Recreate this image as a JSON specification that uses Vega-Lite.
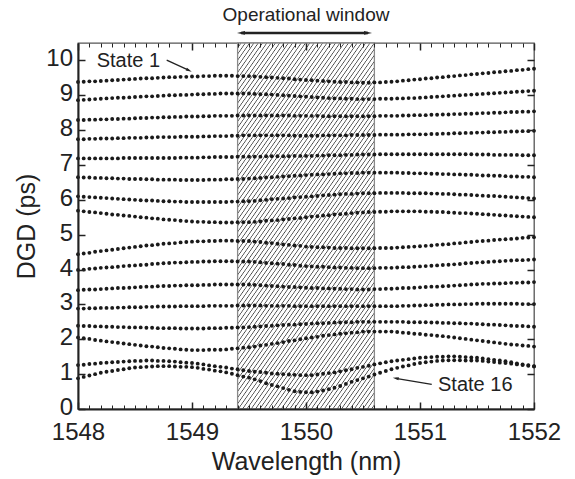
{
"$schema": "https://vega.github.io/schema/vega-lite/v6.json",
"width": 456,
"height": 366,
"autosize": "none",
"padding": {"left": 78, "top": 43, "right": 41, "bottom": 70},
"config": {"font": "Liberation Sans", "view": {"stroke": "#555", "strokeWidth": 1.3}},
"resolve": {"axis": {"x": "independent", "y": "independent"}},
"layer": [
{
"data": {"values": [{}]},
"mark": {"type": "rect", "stroke": "#8a8a8a", "strokeWidth": 1.3,
"fill": {"gradient": "linear", "x1": 0, "y1": 0, "x2": 0.696, "y2": 1.305, "stops": [
{"offset":0,"color":"#fff"},{"offset":0.006,"color":"#fff"},{"offset":0.008,"color":"#444"},
{"offset":0.01,"color":"#fff"},{"offset":0.016,"color":"#fff"},{"offset":0.018,"color":"#444"},
{"offset":0.02,"color":"#fff"},{"offset":0.026,"color":"#fff"},{"offset":0.028,"color":"#444"},
{"offset":0.03,"color":"#fff"},{"offset":0.036,"color":"#fff"},{"offset":0.038,"color":"#444"},
{"offset":0.04,"color":"#fff"},{"offset":0.046,"color":"#fff"},{"offset":0.048,"color":"#444"},
{"offset":0.05,"color":"#fff"},{"offset":0.056,"color":"#fff"},{"offset":0.058,"color":"#444"},
{"offset":0.06,"color":"#fff"},{"offset":0.066,"color":"#fff"},{"offset":0.068,"color":"#444"},
{"offset":0.07,"color":"#fff"},{"offset":0.076,"color":"#fff"},{"offset":0.078,"color":"#444"},
{"offset":0.08,"color":"#fff"},{"offset":0.086,"color":"#fff"},{"offset":0.088,"color":"#444"},
{"offset":0.09,"color":"#fff"},{"offset":0.096,"color":"#fff"},{"offset":0.098,"color":"#444"},
{"offset":0.1,"color":"#fff"},{"offset":0.106,"color":"#fff"},{"offset":0.108,"color":"#444"},
{"offset":0.11,"color":"#fff"},{"offset":0.116,"color":"#fff"},{"offset":0.118,"color":"#444"},
{"offset":0.12,"color":"#fff"},{"offset":0.126,"color":"#fff"},{"offset":0.128,"color":"#444"},
{"offset":0.13,"color":"#fff"},{"offset":0.136,"color":"#fff"},{"offset":0.138,"color":"#444"},
{"offset":0.14,"color":"#fff"},{"offset":0.146,"color":"#fff"},{"offset":0.148,"color":"#444"},
{"offset":0.15,"color":"#fff"},{"offset":0.156,"color":"#fff"},{"offset":0.158,"color":"#444"},
{"offset":0.16,"color":"#fff"},{"offset":0.166,"color":"#fff"},{"offset":0.168,"color":"#444"},
{"offset":0.17,"color":"#fff"},{"offset":0.176,"color":"#fff"},{"offset":0.178,"color":"#444"},
{"offset":0.18,"color":"#fff"},{"offset":0.186,"color":"#fff"},{"offset":0.188,"color":"#444"},
{"offset":0.19,"color":"#fff"},{"offset":0.196,"color":"#fff"},{"offset":0.198,"color":"#444"},
{"offset":0.2,"color":"#fff"},{"offset":0.206,"color":"#fff"},{"offset":0.208,"color":"#444"},
{"offset":0.21,"color":"#fff"},{"offset":0.216,"color":"#fff"},{"offset":0.218,"color":"#444"},
{"offset":0.22,"color":"#fff"},{"offset":0.226,"color":"#fff"},{"offset":0.228,"color":"#444"},
{"offset":0.23,"color":"#fff"},{"offset":0.236,"color":"#fff"},{"offset":0.238,"color":"#444"},
{"offset":0.24,"color":"#fff"},{"offset":0.246,"color":"#fff"},{"offset":0.248,"color":"#444"},
{"offset":0.25,"color":"#fff"},{"offset":0.256,"color":"#fff"},{"offset":0.258,"color":"#444"},
{"offset":0.26,"color":"#fff"},{"offset":0.266,"color":"#fff"},{"offset":0.268,"color":"#444"},
{"offset":0.27,"color":"#fff"},{"offset":0.276,"color":"#fff"},{"offset":0.278,"color":"#444"},
{"offset":0.28,"color":"#fff"},{"offset":0.286,"color":"#fff"},{"offset":0.288,"color":"#444"},
{"offset":0.29,"color":"#fff"},{"offset":0.296,"color":"#fff"},{"offset":0.298,"color":"#444"},
{"offset":0.3,"color":"#fff"},{"offset":0.306,"color":"#fff"},{"offset":0.308,"color":"#444"},
{"offset":0.31,"color":"#fff"},{"offset":0.316,"color":"#fff"},{"offset":0.318,"color":"#444"},
{"offset":0.32,"color":"#fff"},{"offset":0.326,"color":"#fff"},{"offset":0.328,"color":"#444"},
{"offset":0.33,"color":"#fff"},{"offset":0.336,"color":"#fff"},{"offset":0.338,"color":"#444"},
{"offset":0.34,"color":"#fff"},{"offset":0.346,"color":"#fff"},{"offset":0.348,"color":"#444"},
{"offset":0.35,"color":"#fff"},{"offset":0.356,"color":"#fff"},{"offset":0.358,"color":"#444"},
{"offset":0.36,"color":"#fff"},{"offset":0.366,"color":"#fff"},{"offset":0.368,"color":"#444"},
{"offset":0.37,"color":"#fff"},{"offset":0.376,"color":"#fff"},{"offset":0.378,"color":"#444"},
{"offset":0.38,"color":"#fff"},{"offset":0.386,"color":"#fff"},{"offset":0.388,"color":"#444"},
{"offset":0.39,"color":"#fff"},{"offset":0.396,"color":"#fff"},{"offset":0.398,"color":"#444"},
{"offset":0.4,"color":"#fff"},{"offset":0.406,"color":"#fff"},{"offset":0.408,"color":"#444"},
{"offset":0.41,"color":"#fff"},{"offset":0.416,"color":"#fff"},{"offset":0.418,"color":"#444"},
{"offset":0.42,"color":"#fff"},{"offset":0.426,"color":"#fff"},{"offset":0.428,"color":"#444"},
{"offset":0.43,"color":"#fff"},{"offset":0.436,"color":"#fff"},{"offset":0.438,"color":"#444"},
{"offset":0.44,"color":"#fff"},{"offset":0.446,"color":"#fff"},{"offset":0.448,"color":"#444"},
{"offset":0.45,"color":"#fff"},{"offset":0.456,"color":"#fff"},{"offset":0.458,"color":"#444"},
{"offset":0.46,"color":"#fff"},{"offset":0.466,"color":"#fff"},{"offset":0.468,"color":"#444"},
{"offset":0.47,"color":"#fff"},{"offset":0.476,"color":"#fff"},{"offset":0.478,"color":"#444"},
{"offset":0.48,"color":"#fff"},{"offset":0.486,"color":"#fff"},{"offset":0.488,"color":"#444"},
{"offset":0.49,"color":"#fff"},{"offset":0.496,"color":"#fff"},{"offset":0.498,"color":"#444"},
{"offset":0.5,"color":"#fff"},{"offset":0.506,"color":"#fff"},{"offset":0.508,"color":"#444"},
{"offset":0.51,"color":"#fff"},{"offset":0.516,"color":"#fff"},{"offset":0.518,"color":"#444"},
{"offset":0.52,"color":"#fff"},{"offset":0.526,"color":"#fff"},{"offset":0.528,"color":"#444"},
{"offset":0.53,"color":"#fff"},{"offset":0.536,"color":"#fff"},{"offset":0.538,"color":"#444"},
{"offset":0.54,"color":"#fff"},{"offset":0.546,"color":"#fff"},{"offset":0.548,"color":"#444"},
{"offset":0.55,"color":"#fff"},{"offset":0.556,"color":"#fff"},{"offset":0.558,"color":"#444"},
{"offset":0.56,"color":"#fff"},{"offset":0.566,"color":"#fff"},{"offset":0.568,"color":"#444"},
{"offset":0.57,"color":"#fff"},{"offset":0.576,"color":"#fff"},{"offset":0.578,"color":"#444"},
{"offset":0.58,"color":"#fff"},{"offset":0.586,"color":"#fff"},{"offset":0.588,"color":"#444"},
{"offset":0.59,"color":"#fff"},{"offset":0.596,"color":"#fff"},{"offset":0.598,"color":"#444"},
{"offset":0.6,"color":"#fff"},{"offset":0.606,"color":"#fff"},{"offset":0.608,"color":"#444"},
{"offset":0.61,"color":"#fff"},{"offset":0.616,"color":"#fff"},{"offset":0.618,"color":"#444"},
{"offset":0.62,"color":"#fff"},{"offset":0.626,"color":"#fff"},{"offset":0.628,"color":"#444"},
{"offset":0.63,"color":"#fff"},{"offset":0.636,"color":"#fff"},{"offset":0.638,"color":"#444"},
{"offset":0.64,"color":"#fff"},{"offset":0.646,"color":"#fff"},{"offset":0.648,"color":"#444"},
{"offset":0.65,"color":"#fff"},{"offset":0.656,"color":"#fff"},{"offset":0.658,"color":"#444"},
{"offset":0.66,"color":"#fff"},{"offset":0.666,"color":"#fff"},{"offset":0.668,"color":"#444"},
{"offset":0.67,"color":"#fff"},{"offset":0.676,"color":"#fff"},{"offset":0.678,"color":"#444"},
{"offset":0.68,"color":"#fff"},{"offset":0.686,"color":"#fff"},{"offset":0.688,"color":"#444"},
{"offset":0.69,"color":"#fff"},{"offset":0.696,"color":"#fff"},{"offset":0.698,"color":"#444"},
{"offset":0.7,"color":"#fff"},{"offset":0.706,"color":"#fff"},{"offset":0.708,"color":"#444"},
{"offset":0.71,"color":"#fff"},{"offset":0.716,"color":"#fff"},{"offset":0.718,"color":"#444"},
{"offset":0.72,"color":"#fff"},{"offset":0.726,"color":"#fff"},{"offset":0.728,"color":"#444"},
{"offset":0.73,"color":"#fff"},{"offset":0.736,"color":"#fff"},{"offset":0.738,"color":"#444"},
{"offset":0.74,"color":"#fff"},{"offset":0.746,"color":"#fff"},{"offset":0.748,"color":"#444"},
{"offset":0.75,"color":"#fff"},{"offset":0.756,"color":"#fff"},{"offset":0.758,"color":"#444"},
{"offset":0.76,"color":"#fff"},{"offset":0.766,"color":"#fff"},{"offset":0.768,"color":"#444"},
{"offset":0.77,"color":"#fff"},{"offset":0.776,"color":"#fff"},{"offset":0.778,"color":"#444"},
{"offset":0.78,"color":"#fff"},{"offset":0.786,"color":"#fff"},{"offset":0.788,"color":"#444"},
{"offset":0.79,"color":"#fff"},{"offset":0.796,"color":"#fff"},{"offset":0.798,"color":"#444"},
{"offset":0.8,"color":"#fff"},{"offset":0.806,"color":"#fff"},{"offset":0.808,"color":"#444"},
{"offset":0.81,"color":"#fff"},{"offset":0.816,"color":"#fff"},{"offset":0.818,"color":"#444"},
{"offset":0.82,"color":"#fff"},{"offset":0.826,"color":"#fff"},{"offset":0.828,"color":"#444"},
{"offset":0.83,"color":"#fff"},{"offset":0.836,"color":"#fff"},{"offset":0.838,"color":"#444"},
{"offset":0.84,"color":"#fff"},{"offset":0.846,"color":"#fff"},{"offset":0.848,"color":"#444"},
{"offset":0.85,"color":"#fff"},{"offset":0.856,"color":"#fff"},{"offset":0.858,"color":"#444"},
{"offset":0.86,"color":"#fff"},{"offset":0.866,"color":"#fff"},{"offset":0.868,"color":"#444"},
{"offset":0.87,"color":"#fff"},{"offset":0.876,"color":"#fff"},{"offset":0.878,"color":"#444"},
{"offset":0.88,"color":"#fff"},{"offset":0.886,"color":"#fff"},{"offset":0.888,"color":"#444"},
{"offset":0.89,"color":"#fff"},{"offset":0.896,"color":"#fff"},{"offset":0.898,"color":"#444"},
{"offset":0.9,"color":"#fff"},{"offset":0.906,"color":"#fff"},{"offset":0.908,"color":"#444"},
{"offset":0.91,"color":"#fff"},{"offset":0.916,"color":"#fff"},{"offset":0.918,"color":"#444"},
{"offset":0.92,"color":"#fff"},{"offset":0.926,"color":"#fff"},{"offset":0.928,"color":"#444"},
{"offset":1,"color":"#fff"}
]}},
"encoding": {
"x": {"datum": 1549.4, "type": "quantitative", "scale": {"domain": [1548, 1552], "nice": false, "zero": false},
 "axis": {"orient": "top", "values": [1548,1549,1550,1551,1552],
  "labels": false, "domain": false, "grid": false, "title": null, "tickColor": "#222", "tickWidth": 1.5, "tickSize": -7, "zindex": 2}},
"x2": {"datum": 1550.6},
"y": {"datum": 0, "type": "quantitative", "scale": {"domain": [0, 10.5], "nice": false, "zero": false},
 "axis": {"orient": "right", "values": [0,1,2,3,4,5,6,7,8,9,10], "labels": false, "domain": false, "grid": false, "title": null, "tickColor": "#222", "tickWidth": 1.5, "tickSize": -7, "zindex": 2}},
"y2": {"datum": 10.5}
}
},
{
"data": {"values": [
{"x":1548.00,"s1":9.38,"s2":8.86,"s3":8.29,"s4":7.74,"s5":7.19,"s6":6.65,"s7":6.10,"s8":5.69,"s9":4.44,"s10":3.99,"s11":3.41,"s12":2.88,"s13":2.39,"s14":2.05,"s15":1.26,"s16":0.88},
{"x":1548.05,"s1":9.39,"s2":8.87,"s3":8.29,"s4":7.74,"s5":7.19,"s6":6.64,"s7":6.09,"s8":5.67,"s9":4.46,"s10":4.00,"s11":3.42,"s12":2.88,"s13":2.38,"s14":2.03,"s15":1.27,"s16":0.92},
{"x":1548.10,"s1":9.40,"s2":8.88,"s3":8.30,"s4":7.75,"s5":7.19,"s6":6.64,"s7":6.08,"s8":5.65,"s9":4.48,"s10":4.02,"s11":3.43,"s12":2.89,"s13":2.38,"s14":2.01,"s15":1.29,"s16":0.96},
{"x":1548.15,"s1":9.40,"s2":8.89,"s3":8.30,"s4":7.75,"s5":7.19,"s6":6.63,"s7":6.07,"s8":5.64,"s9":4.51,"s10":4.03,"s11":3.43,"s12":2.89,"s13":2.37,"s14":1.98,"s15":1.30,"s16":1.00},
{"x":1548.20,"s1":9.41,"s2":8.90,"s3":8.31,"s4":7.76,"s5":7.19,"s6":6.63,"s7":6.06,"s8":5.62,"s9":4.53,"s10":4.05,"s11":3.44,"s12":2.90,"s13":2.37,"s14":1.96,"s15":1.32,"s16":1.04},
{"x":1548.25,"s1":9.42,"s2":8.91,"s3":8.31,"s4":7.76,"s5":7.19,"s6":6.62,"s7":6.05,"s8":5.60,"s9":4.55,"s10":4.06,"s11":3.45,"s12":2.90,"s13":2.36,"s14":1.94,"s15":1.33,"s16":1.07},
{"x":1548.30,"s1":9.43,"s2":8.92,"s3":8.32,"s4":7.76,"s5":7.19,"s6":6.62,"s7":6.04,"s8":5.58,"s9":4.57,"s10":4.07,"s11":3.46,"s12":2.90,"s13":2.36,"s14":1.92,"s15":1.34,"s16":1.09},
{"x":1548.35,"s1":9.44,"s2":8.93,"s3":8.32,"s4":7.77,"s5":7.19,"s6":6.61,"s7":6.03,"s8":5.57,"s9":4.59,"s10":4.08,"s11":3.47,"s12":2.91,"s13":2.35,"s14":1.90,"s15":1.35,"s16":1.12},
{"x":1548.40,"s1":9.45,"s2":8.93,"s3":8.33,"s4":7.77,"s5":7.20,"s6":6.61,"s7":6.02,"s8":5.55,"s9":4.61,"s10":4.10,"s11":3.47,"s12":2.91,"s13":2.35,"s14":1.88,"s15":1.36,"s16":1.14},
{"x":1548.45,"s1":9.46,"s2":8.94,"s3":8.33,"s4":7.78,"s5":7.20,"s6":6.60,"s7":6.01,"s8":5.54,"s9":4.63,"s10":4.11,"s11":3.48,"s12":2.92,"s13":2.34,"s14":1.86,"s15":1.37,"s16":1.17},
{"x":1548.50,"s1":9.47,"s2":8.95,"s3":8.34,"s4":7.78,"s5":7.20,"s6":6.60,"s7":6.00,"s8":5.52,"s9":4.65,"s10":4.12,"s11":3.49,"s12":2.92,"s13":2.34,"s14":1.84,"s15":1.38,"s16":1.19},
{"x":1548.55,"s1":9.48,"s2":8.96,"s3":8.35,"s4":7.78,"s5":7.20,"s6":6.60,"s7":5.99,"s8":5.50,"s9":4.67,"s10":4.13,"s11":3.50,"s12":2.92,"s13":2.34,"s14":1.82,"s15":1.38,"s16":1.20},
{"x":1548.60,"s1":9.49,"s2":8.97,"s3":8.35,"s4":7.79,"s5":7.20,"s6":6.59,"s7":5.98,"s8":5.49,"s9":4.69,"s10":4.14,"s11":3.51,"s12":2.93,"s13":2.33,"s14":1.80,"s15":1.39,"s16":1.21},
{"x":1548.65,"s1":9.49,"s2":8.97,"s3":8.36,"s4":7.79,"s5":7.20,"s6":6.59,"s7":5.98,"s8":5.47,"s9":4.70,"s10":4.16,"s11":3.51,"s12":2.93,"s13":2.33,"s14":1.79,"s15":1.39,"s16":1.22},
{"x":1548.70,"s1":9.50,"s2":8.98,"s3":8.36,"s4":7.80,"s5":7.20,"s6":6.58,"s7":5.97,"s8":5.46,"s9":4.72,"s10":4.17,"s11":3.52,"s12":2.94,"s13":2.32,"s14":1.77,"s15":1.38,"s16":1.23},
{"x":1548.75,"s1":9.51,"s2":8.99,"s3":8.37,"s4":7.80,"s5":7.20,"s6":6.58,"s7":5.96,"s8":5.44,"s9":4.74,"s10":4.18,"s11":3.53,"s12":2.94,"s13":2.32,"s14":1.75,"s15":1.38,"s16":1.23},
{"x":1548.80,"s1":9.52,"s2":9.00,"s3":8.37,"s4":7.80,"s5":7.20,"s6":6.58,"s7":5.96,"s8":5.43,"s9":4.75,"s10":4.19,"s11":3.53,"s12":2.94,"s13":2.32,"s14":1.74,"s15":1.37,"s16":1.23},
{"x":1548.85,"s1":9.52,"s2":9.00,"s3":8.38,"s4":7.80,"s5":7.20,"s6":6.58,"s7":5.95,"s8":5.42,"s9":4.76,"s10":4.20,"s11":3.54,"s12":2.94,"s13":2.32,"s14":1.73,"s15":1.36,"s16":1.22},
{"x":1548.90,"s1":9.53,"s2":9.01,"s3":8.38,"s4":7.81,"s5":7.21,"s6":6.57,"s7":5.95,"s8":5.40,"s9":4.78,"s10":4.20,"s11":3.54,"s12":2.95,"s13":2.31,"s14":1.71,"s15":1.34,"s16":1.21},
{"x":1548.95,"s1":9.53,"s2":9.01,"s3":8.39,"s4":7.81,"s5":7.21,"s6":6.57,"s7":5.94,"s8":5.39,"s9":4.79,"s10":4.21,"s11":3.55,"s12":2.95,"s13":2.31,"s14":1.70,"s15":1.33,"s16":1.21},
{"x":1549.00,"s1":9.54,"s2":9.02,"s3":8.39,"s4":7.81,"s5":7.21,"s6":6.57,"s7":5.94,"s8":5.38,"s9":4.80,"s10":4.22,"s11":3.55,"s12":2.95,"s13":2.31,"s14":1.69,"s15":1.32,"s16":1.20},
{"x":1549.05,"s1":9.54,"s2":9.03,"s3":8.39,"s4":7.81,"s5":7.21,"s6":6.57,"s7":5.94,"s8":5.37,"s9":4.81,"s10":4.22,"s11":3.55,"s12":2.95,"s13":2.31,"s14":1.69,"s15":1.30,"s16":1.18},
{"x":1549.10,"s1":9.55,"s2":9.03,"s3":8.40,"s4":7.82,"s5":7.22,"s6":6.57,"s7":5.94,"s8":5.37,"s9":4.81,"s10":4.23,"s11":3.56,"s12":2.95,"s13":2.31,"s14":1.69,"s15":1.28,"s16":1.15},
{"x":1549.15,"s1":9.55,"s2":9.04,"s3":8.40,"s4":7.82,"s5":7.22,"s6":6.58,"s7":5.94,"s8":5.36,"s9":4.82,"s10":4.23,"s11":3.56,"s12":2.96,"s13":2.32,"s14":1.70,"s15":1.25,"s16":1.13},
{"x":1549.20,"s1":9.56,"s2":9.04,"s3":8.41,"s4":7.83,"s5":7.23,"s6":6.58,"s7":5.94,"s8":5.36,"s9":4.82,"s10":4.24,"s11":3.57,"s12":2.96,"s13":2.32,"s14":1.70,"s15":1.23,"s16":1.10},
{"x":1549.25,"s1":9.56,"s2":9.05,"s3":8.41,"s4":7.83,"s5":7.23,"s6":6.58,"s7":5.94,"s8":5.35,"s9":4.83,"s10":4.24,"s11":3.57,"s12":2.96,"s13":2.32,"s14":1.70,"s15":1.21,"s16":1.08},
{"x":1549.30,"s1":9.56,"s2":9.05,"s3":8.41,"s4":7.83,"s5":7.23,"s6":6.59,"s7":5.94,"s8":5.35,"s9":4.83,"s10":4.24,"s11":3.57,"s12":2.96,"s13":2.33,"s14":1.71,"s15":1.19,"s16":1.05},
{"x":1549.35,"s1":9.56,"s2":9.05,"s3":8.41,"s4":7.84,"s5":7.23,"s6":6.59,"s7":5.95,"s8":5.35,"s9":4.83,"s10":4.24,"s11":3.57,"s12":2.96,"s13":2.33,"s14":1.73,"s15":1.16,"s16":1.01},
{"x":1549.40,"s1":9.55,"s2":9.05,"s3":8.42,"s4":7.84,"s5":7.24,"s6":6.60,"s7":5.95,"s8":5.36,"s9":4.82,"s10":4.23,"s11":3.57,"s12":2.97,"s13":2.34,"s14":1.74,"s15":1.14,"s16":0.97},
{"x":1549.45,"s1":9.55,"s2":9.05,"s3":8.42,"s4":7.85,"s5":7.24,"s6":6.60,"s7":5.96,"s8":5.36,"s9":4.82,"s10":4.23,"s11":3.57,"s12":2.97,"s13":2.34,"s14":1.76,"s15":1.11,"s16":0.93},
{"x":1549.50,"s1":9.55,"s2":9.05,"s3":8.42,"s4":7.85,"s5":7.24,"s6":6.61,"s7":5.96,"s8":5.36,"s9":4.82,"s10":4.23,"s11":3.57,"s12":2.97,"s13":2.35,"s14":1.77,"s15":1.09,"s16":0.90},
{"x":1549.55,"s1":9.54,"s2":9.04,"s3":8.42,"s4":7.85,"s5":7.24,"s6":6.62,"s7":5.97,"s8":5.37,"s9":4.80,"s10":4.22,"s11":3.56,"s12":2.97,"s13":2.36,"s14":1.79,"s15":1.07,"s16":0.85},
{"x":1549.60,"s1":9.53,"s2":9.03,"s3":8.42,"s4":7.85,"s5":7.24,"s6":6.63,"s7":5.99,"s8":5.38,"s9":4.79,"s10":4.21,"s11":3.55,"s12":2.97,"s13":2.37,"s14":1.82,"s15":1.06,"s16":0.80},
{"x":1549.65,"s1":9.52,"s2":9.03,"s3":8.42,"s4":7.85,"s5":7.25,"s6":6.64,"s7":6.00,"s8":5.40,"s9":4.77,"s10":4.19,"s11":3.54,"s12":2.96,"s13":2.38,"s14":1.84,"s15":1.04,"s16":0.74},
{"x":1549.70,"s1":9.51,"s2":9.02,"s3":8.42,"s4":7.85,"s5":7.25,"s6":6.65,"s7":6.02,"s8":5.41,"s9":4.76,"s10":4.18,"s11":3.53,"s12":2.96,"s13":2.39,"s14":1.87,"s15":1.02,"s16":0.69},
{"x":1549.75,"s1":9.50,"s2":9.01,"s3":8.42,"s4":7.85,"s5":7.25,"s6":6.66,"s7":6.03,"s8":5.42,"s9":4.74,"s10":4.17,"s11":3.52,"s12":2.96,"s13":2.40,"s14":1.89,"s15":1.01,"s16":0.65},
{"x":1549.80,"s1":9.49,"s2":9.00,"s3":8.42,"s4":7.85,"s5":7.25,"s6":6.67,"s7":6.04,"s8":5.44,"s9":4.72,"s10":4.16,"s11":3.51,"s12":2.96,"s13":2.41,"s14":1.92,"s15":1.00,"s16":0.60},
{"x":1549.85,"s1":9.48,"s2":8.99,"s3":8.42,"s4":7.85,"s5":7.25,"s6":6.68,"s7":6.05,"s8":5.45,"s9":4.71,"s10":4.14,"s11":3.50,"s12":2.96,"s13":2.42,"s14":1.95,"s15":0.99,"s16":0.55},
{"x":1549.90,"s1":9.46,"s2":8.98,"s3":8.41,"s4":7.84,"s5":7.26,"s6":6.69,"s7":6.07,"s8":5.47,"s9":4.69,"s10":4.13,"s11":3.50,"s12":2.95,"s13":2.42,"s14":1.97,"s15":0.98,"s16":0.51},
{"x":1549.95,"s1":9.45,"s2":8.97,"s3":8.41,"s4":7.84,"s5":7.26,"s6":6.70,"s7":6.08,"s8":5.48,"s9":4.68,"s10":4.11,"s11":3.49,"s12":2.95,"s13":2.43,"s14":2.00,"s15":0.97,"s16":0.49},
{"x":1550.00,"s1":9.44,"s2":8.96,"s3":8.41,"s4":7.84,"s5":7.26,"s6":6.71,"s7":6.09,"s8":5.50,"s9":4.66,"s10":4.10,"s11":3.48,"s12":2.95,"s13":2.44,"s14":2.03,"s15":0.97,"s16":0.48},
{"x":1550.05,"s1":9.43,"s2":8.95,"s3":8.41,"s4":7.84,"s5":7.26,"s6":6.72,"s7":6.10,"s8":5.52,"s9":4.65,"s10":4.09,"s11":3.47,"s12":2.95,"s13":2.45,"s14":2.05,"s15":0.97,"s16":0.48},
{"x":1550.10,"s1":9.42,"s2":8.94,"s3":8.41,"s4":7.84,"s5":7.27,"s6":6.73,"s7":6.11,"s8":5.53,"s9":4.64,"s10":4.08,"s11":3.47,"s12":2.95,"s13":2.46,"s14":2.07,"s15":0.99,"s16":0.50},
{"x":1550.15,"s1":9.41,"s2":8.93,"s3":8.40,"s4":7.85,"s5":7.27,"s6":6.73,"s7":6.13,"s8":5.55,"s9":4.64,"s10":4.08,"s11":3.46,"s12":2.95,"s13":2.46,"s14":2.10,"s15":1.01,"s16":0.53},
{"x":1550.20,"s1":9.40,"s2":8.92,"s3":8.40,"s4":7.85,"s5":7.28,"s6":6.74,"s7":6.14,"s8":5.56,"s9":4.63,"s10":4.07,"s11":3.46,"s12":2.95,"s13":2.47,"s14":2.12,"s15":1.03,"s16":0.57},
{"x":1550.25,"s1":9.39,"s2":8.91,"s3":8.40,"s4":7.85,"s5":7.28,"s6":6.75,"s7":6.15,"s8":5.58,"s9":4.62,"s10":4.06,"s11":3.45,"s12":2.95,"s13":2.48,"s14":2.14,"s15":1.05,"s16":0.61},
{"x":1550.30,"s1":9.38,"s2":8.91,"s3":8.40,"s4":7.85,"s5":7.28,"s6":6.76,"s7":6.16,"s8":5.59,"s9":4.62,"s10":4.06,"s11":3.45,"s12":2.95,"s13":2.48,"s14":2.16,"s15":1.08,"s16":0.66},
{"x":1550.35,"s1":9.38,"s2":8.90,"s3":8.40,"s4":7.85,"s5":7.29,"s6":6.76,"s7":6.17,"s8":5.60,"s9":4.62,"s10":4.05,"s11":3.44,"s12":2.95,"s13":2.49,"s14":2.17,"s15":1.11,"s16":0.72},
{"x":1550.40,"s1":9.37,"s2":8.90,"s3":8.40,"s4":7.86,"s5":7.29,"s6":6.77,"s7":6.17,"s8":5.62,"s9":4.61,"s10":4.05,"s11":3.44,"s12":2.95,"s13":2.49,"s14":2.19,"s15":1.14,"s16":0.78},
{"x":1550.45,"s1":9.37,"s2":8.89,"s3":8.40,"s4":7.86,"s5":7.30,"s6":6.77,"s7":6.18,"s8":5.63,"s9":4.61,"s10":4.04,"s11":3.43,"s12":2.95,"s13":2.50,"s14":2.20,"s15":1.18,"s16":0.83},
{"x":1550.50,"s1":9.36,"s2":8.89,"s3":8.40,"s4":7.86,"s5":7.30,"s6":6.78,"s7":6.19,"s8":5.64,"s9":4.61,"s10":4.04,"s11":3.43,"s12":2.95,"s13":2.50,"s14":2.22,"s15":1.21,"s16":0.88},
{"x":1550.55,"s1":9.36,"s2":8.89,"s3":8.40,"s4":7.86,"s5":7.30,"s6":6.78,"s7":6.19,"s8":5.65,"s9":4.61,"s10":4.04,"s11":3.43,"s12":2.95,"s13":2.50,"s14":2.22,"s15":1.24,"s16":0.93},
{"x":1550.60,"s1":9.37,"s2":8.89,"s3":8.40,"s4":7.86,"s5":7.30,"s6":6.78,"s7":6.19,"s8":5.65,"s9":4.61,"s10":4.04,"s11":3.44,"s12":2.95,"s13":2.50,"s14":2.22,"s15":1.28,"s16":0.99},
{"x":1550.65,"s1":9.37,"s2":8.90,"s3":8.41,"s4":7.87,"s5":7.31,"s6":6.78,"s7":6.20,"s8":5.66,"s9":4.62,"s10":4.05,"s11":3.44,"s12":2.95,"s13":2.50,"s14":2.22,"s15":1.31,"s16":1.04},
{"x":1550.70,"s1":9.38,"s2":8.90,"s3":8.41,"s4":7.87,"s5":7.31,"s6":6.78,"s7":6.20,"s8":5.66,"s9":4.62,"s10":4.05,"s11":3.45,"s12":2.95,"s13":2.50,"s14":2.22,"s15":1.34,"s16":1.09},
{"x":1550.75,"s1":9.39,"s2":8.90,"s3":8.41,"s4":7.87,"s5":7.31,"s6":6.78,"s7":6.20,"s8":5.67,"s9":4.62,"s10":4.05,"s11":3.45,"s12":2.95,"s13":2.50,"s14":2.22,"s15":1.37,"s16":1.14},
{"x":1550.80,"s1":9.40,"s2":8.91,"s3":8.41,"s4":7.87,"s5":7.31,"s6":6.78,"s7":6.20,"s8":5.67,"s9":4.63,"s10":4.06,"s11":3.46,"s12":2.95,"s13":2.50,"s14":2.21,"s15":1.39,"s16":1.18},
{"x":1550.85,"s1":9.42,"s2":8.91,"s3":8.42,"s4":7.87,"s5":7.31,"s6":6.77,"s7":6.20,"s8":5.67,"s9":4.64,"s10":4.07,"s11":3.47,"s12":2.96,"s13":2.50,"s14":2.19,"s15":1.41,"s16":1.22},
{"x":1550.90,"s1":9.43,"s2":8.92,"s3":8.42,"s4":7.88,"s5":7.31,"s6":6.77,"s7":6.19,"s8":5.67,"s9":4.65,"s10":4.07,"s11":3.47,"s12":2.96,"s13":2.49,"s14":2.18,"s15":1.43,"s16":1.25},
{"x":1550.95,"s1":9.45,"s2":8.92,"s3":8.43,"s4":7.88,"s5":7.31,"s6":6.76,"s7":6.19,"s8":5.67,"s9":4.66,"s10":4.08,"s11":3.48,"s12":2.97,"s13":2.49,"s14":2.16,"s15":1.45,"s16":1.29},
{"x":1551.00,"s1":9.46,"s2":8.93,"s3":8.43,"s4":7.88,"s5":7.31,"s6":6.76,"s7":6.19,"s8":5.67,"s9":4.67,"s10":4.09,"s11":3.49,"s12":2.97,"s13":2.49,"s14":2.15,"s15":1.47,"s16":1.32},
{"x":1551.05,"s1":9.48,"s2":8.94,"s3":8.43,"s4":7.88,"s5":7.31,"s6":6.76,"s7":6.19,"s8":5.66,"s9":4.68,"s10":4.10,"s11":3.50,"s12":2.98,"s13":2.49,"s14":2.13,"s15":1.48,"s16":1.34},
{"x":1551.10,"s1":9.49,"s2":8.95,"s3":8.44,"s4":7.89,"s5":7.31,"s6":6.75,"s7":6.18,"s8":5.66,"s9":4.69,"s10":4.11,"s11":3.51,"s12":2.98,"s13":2.48,"s14":2.12,"s15":1.49,"s16":1.36},
{"x":1551.15,"s1":9.51,"s2":8.96,"s3":8.44,"s4":7.89,"s5":7.31,"s6":6.75,"s7":6.18,"s8":5.65,"s9":4.71,"s10":4.12,"s11":3.51,"s12":2.99,"s13":2.48,"s14":2.10,"s15":1.50,"s16":1.38},
{"x":1551.20,"s1":9.52,"s2":8.97,"s3":8.45,"s4":7.90,"s5":7.31,"s6":6.74,"s7":6.17,"s8":5.65,"s9":4.72,"s10":4.13,"s11":3.52,"s12":2.99,"s13":2.47,"s14":2.09,"s15":1.50,"s16":1.39},
{"x":1551.25,"s1":9.54,"s2":8.98,"s3":8.45,"s4":7.90,"s5":7.31,"s6":6.74,"s7":6.17,"s8":5.64,"s9":4.73,"s10":4.14,"s11":3.53,"s12":3.00,"s13":2.47,"s14":2.07,"s15":1.51,"s16":1.40},
{"x":1551.30,"s1":9.55,"s2":8.99,"s3":8.46,"s4":7.91,"s5":7.31,"s6":6.73,"s7":6.16,"s8":5.63,"s9":4.75,"s10":4.15,"s11":3.54,"s12":3.00,"s13":2.46,"s14":2.05,"s15":1.51,"s16":1.40},
{"x":1551.35,"s1":9.57,"s2":9.00,"s3":8.46,"s4":7.91,"s5":7.31,"s6":6.73,"s7":6.15,"s8":5.62,"s9":4.76,"s10":4.16,"s11":3.55,"s12":3.00,"s13":2.46,"s14":2.03,"s15":1.50,"s16":1.40},
{"x":1551.40,"s1":9.58,"s2":9.01,"s3":8.47,"s4":7.92,"s5":7.31,"s6":6.72,"s7":6.15,"s8":5.62,"s9":4.78,"s10":4.18,"s11":3.56,"s12":3.01,"s13":2.45,"s14":2.01,"s15":1.49,"s16":1.39},
{"x":1551.45,"s1":9.60,"s2":9.02,"s3":8.47,"s4":7.92,"s5":7.31,"s6":6.72,"s7":6.14,"s8":5.61,"s9":4.79,"s10":4.19,"s11":3.57,"s12":3.01,"s13":2.45,"s14":1.99,"s15":1.48,"s16":1.39},
{"x":1551.50,"s1":9.61,"s2":9.03,"s3":8.48,"s4":7.93,"s5":7.30,"s6":6.71,"s7":6.13,"s8":5.60,"s9":4.81,"s10":4.20,"s11":3.58,"s12":3.02,"s13":2.44,"s14":1.97,"s15":1.47,"s16":1.39},
{"x":1551.55,"s1":9.63,"s2":9.04,"s3":8.49,"s4":7.93,"s5":7.30,"s6":6.70,"s7":6.12,"s8":5.59,"s9":4.82,"s10":4.21,"s11":3.59,"s12":3.02,"s13":2.43,"s14":1.95,"s15":1.45,"s16":1.38},
{"x":1551.60,"s1":9.64,"s2":9.05,"s3":8.49,"s4":7.94,"s5":7.30,"s6":6.70,"s7":6.11,"s8":5.58,"s9":4.83,"s10":4.22,"s11":3.59,"s12":3.02,"s13":2.42,"s14":1.93,"s15":1.43,"s16":1.36},
{"x":1551.65,"s1":9.66,"s2":9.06,"s3":8.50,"s4":7.94,"s5":7.29,"s6":6.69,"s7":6.11,"s8":5.57,"s9":4.85,"s10":4.23,"s11":3.60,"s12":3.02,"s13":2.42,"s14":1.91,"s15":1.41,"s16":1.35},
{"x":1551.70,"s1":9.67,"s2":9.07,"s3":8.50,"s4":7.95,"s5":7.29,"s6":6.69,"s7":6.10,"s8":5.56,"s9":4.86,"s10":4.24,"s11":3.60,"s12":3.02,"s13":2.41,"s14":1.89,"s15":1.39,"s16":1.33},
{"x":1551.75,"s1":9.69,"s2":9.08,"s3":8.51,"s4":7.95,"s5":7.29,"s6":6.68,"s7":6.09,"s8":5.55,"s9":4.87,"s10":4.25,"s11":3.61,"s12":3.02,"s13":2.40,"s14":1.87,"s15":1.37,"s16":1.32},
{"x":1551.80,"s1":9.70,"s2":9.09,"s3":8.52,"s4":7.96,"s5":7.29,"s6":6.67,"s7":6.08,"s8":5.54,"s9":4.88,"s10":4.26,"s11":3.62,"s12":3.02,"s13":2.39,"s14":1.85,"s15":1.34,"s16":1.30},
{"x":1551.85,"s1":9.72,"s2":9.10,"s3":8.52,"s4":7.96,"s5":7.29,"s6":6.67,"s7":6.07,"s8":5.53,"s9":4.89,"s10":4.27,"s11":3.62,"s12":3.02,"s13":2.38,"s14":1.84,"s15":1.31,"s16":1.28},
{"x":1551.90,"s1":9.73,"s2":9.11,"s3":8.53,"s4":7.97,"s5":7.28,"s6":6.66,"s7":6.06,"s8":5.52,"s9":4.91,"s10":4.27,"s11":3.63,"s12":3.01,"s13":2.38,"s14":1.82,"s15":1.28,"s16":1.26},
{"x":1551.95,"s1":9.75,"s2":9.12,"s3":8.53,"s4":7.97,"s5":7.28,"s6":6.66,"s7":6.05,"s8":5.51,"s9":4.92,"s10":4.28,"s11":3.63,"s12":3.01,"s13":2.37,"s14":1.81,"s15":1.26,"s16":1.24},
{"x":1552.00,"s1":9.76,"s2":9.13,"s3":8.54,"s4":7.98,"s5":7.28,"s6":6.65,"s7":6.04,"s8":5.50,"s9":4.93,"s10":4.29,"s11":3.64,"s12":3.01,"s13":2.36,"s14":1.79,"s15":1.23,"s16":1.22}
]},
"transform": [{"fold": ["s1","s2","s3","s4","s5","s6","s7","s8","s9","s10","s11","s12","s13","s14","s15","s16"], "as": ["state", "dgd"]}],
"mark": {"type": "point", "filled": true, "size": 15, "color": "#1a1a1a", "opacity": 1},
"encoding": {
"x": {"field": "x", "type": "quantitative", "scale": {"domain": [1548, 1552], "nice": false, "zero": false},
 "axis": {"orient": "bottom", "values": [1548,1549,1550,1551,1552],
  "format": "d", "labelOverlap": false, "labelFlush": false,
  "labelFontSize": 24, "labelColor": "#222", "labelPadding": 18,
  "title": "Wavelength (nm)", "titleFontSize": 25, "titleFontWeight": "normal", "titleColor": "#222", "titlePadding": 5,
  "grid": false, "domainColor": "#222", "domainWidth": 2, "tickColor": "#222", "tickWidth": 1.5,
  "tickSize": -7, "zindex": 2}},
"y": {"field": "dgd", "type": "quantitative", "scale": {"domain": [0, 10.5], "nice": false, "zero": false},
 "axis": {"orient": "left", "values": [0,1,2,3,4,5,6,7,8,9,10], "format": "d", "labelFontSize": 24, "labelColor": "#222", "labelPadding": 12.5, "labelOffset": -1.5,
  "title": "DGD (ps)", "titleFontSize": 25, "titleFontWeight": "normal", "titleColor": "#222", "titlePadding": 6,
  "grid": false, "domainColor": "#222", "domainWidth": 2, "tickColor": "#222", "tickWidth": 1.5, "tickSize": -7, "zindex": 2}}
}
},
{
"data": {"values": [{}]},
"mark": {"type": "text", "text": "Operational window", "fontSize": 19, "align": "center", "baseline": "alphabetic", "color": "#222"},
"encoding": {
"x": {"datum": 1550.0, "type": "quantitative", "scale": {"domain": [1548, 1552], "nice": false, "zero": false},
 "axis": {"orient": "bottom", "values": [1548.1,1548.2,1548.3,1548.4,1548.5,1548.6,1548.7,1548.8,1548.9,1549.1,1549.2,1549.3,1549.4,1549.5,1549.6,1549.7,1549.8,1549.9,1550.1,1550.2,1550.3,1550.4,1550.5,1550.6,1550.7,1550.8,1550.9,1551.1,1551.2,1551.3,1551.4,1551.5,1551.6,1551.7,1551.8,1551.9],
  "labels": false, "domain": false, "grid": false, "title": null, "tickColor": "#222", "tickWidth": 1, "tickSize": -4, "zindex": 2}},
"y": {"datum": 11.14, "type": "quantitative", "scale": {"domain": [0, 10.5], "nice": false, "zero": false}, "axis": null}
}
},
{
"data": {"values": [{}]},
"mark": {"type": "rule", "color": "#222", "strokeWidth": 2.5},
"encoding": {
"x": {"datum": 1549.43, "type": "quantitative", "scale": {"domain": [1548, 1552], "nice": false, "zero": false},
 "axis": {"orient": "top", "values": [1548.1,1548.2,1548.3,1548.4,1548.5,1548.6,1548.7,1548.8,1548.9,1549.1,1549.2,1549.3,1549.4,1549.5,1549.6,1549.7,1549.8,1549.9,1550.1,1550.2,1550.3,1550.4,1550.5,1550.6,1550.7,1550.8,1550.9,1551.1,1551.2,1551.3,1551.4,1551.5,1551.6,1551.7,1551.8,1551.9],
  "labels": false, "domain": false, "grid": false, "title": null, "tickColor": "#222", "tickWidth": 1, "tickSize": -4, "zindex": 2}},
"x2": {"datum": 1550.544},
"y": {"datum": 10.79, "type": "quantitative", "scale": {"domain": [0, 10.5], "nice": false, "zero": false}, "axis": null}
}
},
{
"data": {"values": [{}]},
"mark": {"type": "point", "shape": "M -1 0 L 1 -0.45 L 1 0.45 Z", "size": 64, "filled": true, "color": "#222", "opacity": 1},
"encoding": {
"x": {"datum": 1549.43, "type": "quantitative", "scale": {"domain": [1548, 1552], "nice": false, "zero": false}, "axis": null},
"y": {"datum": 10.79, "type": "quantitative", "scale": {"domain": [0, 10.5], "nice": false, "zero": false}, "axis": null}
}
},
{
"data": {"values": [{}]},
"mark": {"type": "point", "shape": "M 1 0 L -1 -0.45 L -1 0.45 Z", "size": 64, "filled": true, "color": "#222", "opacity": 1},
"encoding": {
"x": {"datum": 1550.544, "type": "quantitative", "scale": {"domain": [1548, 1552], "nice": false, "zero": false}, "axis": null},
"y": {"datum": 10.79, "type": "quantitative", "scale": {"domain": [0, 10.5], "nice": false, "zero": false}, "axis": null}
}
},
{
"data": {"values": [{}]},
"mark": {"type": "text", "text": "State 1", "fontSize": 20, "align": "left", "baseline": "alphabetic", "color": "#222"},
"encoding": {
"x": {"datum": 1548.164, "type": "quantitative", "scale": {"domain": [1548, 1552], "nice": false, "zero": false}, "axis": null},
"y": {"datum": 9.82, "type": "quantitative", "scale": {"domain": [0, 10.5], "nice": false, "zero": false}, "axis": null}
}
},
{
"data": {"values": [{}]},
"mark": {"type": "rule", "color": "#222", "strokeWidth": 1.3},
"encoding": {
"x": {"datum": 1548.778, "type": "quantitative", "scale": {"domain": [1548, 1552], "nice": false, "zero": false}, "axis": null},
"x2": {"datum": 1548.974},
"y": {"datum": 10.01, "type": "quantitative", "scale": {"domain": [0, 10.5], "nice": false, "zero": false}, "axis": null},
"y2": {"datum": 9.713}
}
},
{
"data": {"values": [{}]},
"mark": {"type": "point", "shape": "M 1 0 L -1 -0.5 L -1 0.5 Z", "size": 36, "angle": 25, "filled": true, "color": "#222", "opacity": 1},
"encoding": {
"x": {"datum": 1548.974, "type": "quantitative", "scale": {"domain": [1548, 1552], "nice": false, "zero": false}, "axis": null},
"y": {"datum": 9.713, "type": "quantitative", "scale": {"domain": [0, 10.5], "nice": false, "zero": false}, "axis": null}
}
},
{
"data": {"values": [{}]},
"mark": {"type": "text", "text": "State 16", "fontSize": 20, "align": "left", "baseline": "alphabetic", "color": "#222"},
"encoding": {
"x": {"datum": 1551.158, "type": "quantitative", "scale": {"domain": [1548, 1552], "nice": false, "zero": false}, "axis": null},
"y": {"datum": 0.516, "type": "quantitative", "scale": {"domain": [0, 10.5], "nice": false, "zero": false}, "axis": null}
}
},
{
"data": {"values": [{}]},
"mark": {"type": "rule", "color": "#222", "strokeWidth": 1.3},
"encoding": {
"x": {"datum": 1551.103, "type": "quantitative", "scale": {"domain": [1548, 1552], "nice": false, "zero": false}, "axis": null},
"x2": {"datum": 1550.787},
"y": {"datum": 0.709, "type": "quantitative", "scale": {"domain": [0, 10.5], "nice": false, "zero": false}, "axis": null},
"y2": {"datum": 0.881}
}
},
{
"data": {"values": [{}]},
"mark": {"type": "point", "shape": "M 1 0 L -1 -0.5 L -1 0.5 Z", "size": 36, "angle": 189.5, "filled": true, "color": "#222", "opacity": 1},
"encoding": {
"x": {"datum": 1550.787, "type": "quantitative", "scale": {"domain": [1548, 1552], "nice": false, "zero": false}, "axis": null},
"y": {"datum": 0.881, "type": "quantitative", "scale": {"domain": [0, 10.5], "nice": false, "zero": false}, "axis": null}
}
}
]
}
